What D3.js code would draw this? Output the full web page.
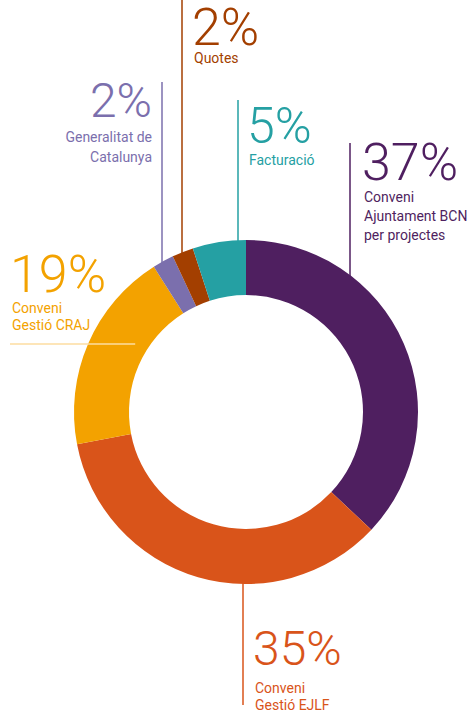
<!DOCTYPE html>
<html>
<head>
<meta charset="utf-8">
<script src="https://cdn.jsdelivr.net/npm/d3@7"></script>
<style>
  html, body { margin: 0; padding: 0; background: #fff; }
  svg { display: block; font-family: Roboto, "Noto Sans", sans-serif; }
</style>
</head>
<body>
<div id="chart"></div>
<script>
// Income breakdown donut
const categories = [
    ["Conveni", "Ajuntament BCN", "per projectes"],
    ["Conveni", "Gestió EJLF"],
    ["Conveni", "Gestió CRAJ"],
    ["Generalitat de", "Catalunya"],
    ["Quotes"],
    ["Facturació"]
];
const values = [37, 35, 19, 2, 2, 5];
const colors = ["#4f1f60", "#d9541a", "#f3a200", "#7b6fad", "#a33f00", "#25a0a3"];

const width = 476, height = 718;
const cx = 246, cy = 412;
const outerR = 172, innerR = 117;

// label placement (leader line + text), one per slice
const layout = [
    { lineX: 350, lineTop: 143, tx: 362, big: 180, sub: 202, step: 19, anchor: "start", size: 52 },
    { lineX: 243, lineBottom: 705, tx: 253, big: 665, sub: 693, step: 17, anchor: "start", size: 48 },
    { lineY: 344, lineLeft: 10, endR: 130, tx: 10, big: 292, sub: 313, step: 17, anchor: "start", size: 52, lineColor: "#fcdca0" },
    { lineX: 162, lineTop: 82, tx: 152, big: 117, sub: 142, step: 20, anchor: "end", size: 48 },
    { lineX: 182, lineTop: 0, tx: 192, big: 45, sub: 63, step: 18, anchor: "start", size: 52 },
    { lineX: 238, lineTop: 100, tx: 247, big: 143, sub: 165, step: 18, anchor: "start", size: 50 }
];

const svg = d3.select("#chart")
    .append("svg")
    .attr("width", width)
    .attr("height", height);

const data = values.map((v, i) => ({ value: v, name: categories[i], color: colors[i], lay: layout[i] }));

const pie = d3.pie().sort(null).value(d => d.value);
const arc = d3.arc().innerRadius(innerR).outerRadius(outerR);

const g = svg.append("g").attr("transform", `translate(${cx},${cy})`);

g.selectAll("path")
    .data(pie(data))
    .enter()
    .append("path")
    .attr("d", arc)
    .attr("fill", d => d.data.color);

// Leader lines
data.forEach(d => {
    const L = d.lay;
    let x1, y1, x2, y2;
    if (L.lineY !== undefined) {
        const dy = L.lineY - cy;
        x1 = L.lineLeft; y1 = L.lineY;
        x2 = cx - Math.sqrt(L.endR * L.endR - dy * dy); y2 = L.lineY;
    } else {
        const dx = L.lineX - cx;
        const off = Math.sqrt(outerR * outerR - dx * dx);
        x1 = x2 = L.lineX;
        if (L.lineBottom !== undefined) { y1 = cy + off - 1; y2 = L.lineBottom; }
        else { y1 = L.lineTop; y2 = cy - off + 1; }
    }
    svg.append("line")
        .attr("x1", x1).attr("y1", y1)
        .attr("x2", x2).attr("y2", y2)
        .attr("stroke", L.lineColor || d.color)
        .attr("stroke-width", 1.5);
});

// Labels
const total = d3.sum(values);
data.forEach(d => {
    const L = d.lay;
    svg.append("text")
        .attr("x", L.tx)
        .attr("y", L.big)
        .attr("text-anchor", L.anchor)
        .attr("fill", d.color)
        .attr("font-size", L.size + "px")
        .attr("font-weight", 300)
        .text(Math.round(d.value / total * 100) + "%");

    d.name.forEach((line, j) => {
        svg.append("text")
            .attr("x", L.tx + (L.anchor === "start" ? 2 : 0))
            .attr("y", L.sub + j * L.step)
            .attr("text-anchor", L.anchor)
            .attr("fill", d.color)
            .attr("font-size", "14px")
            .text(line);
    });
});
</script>
</body>
</html>
